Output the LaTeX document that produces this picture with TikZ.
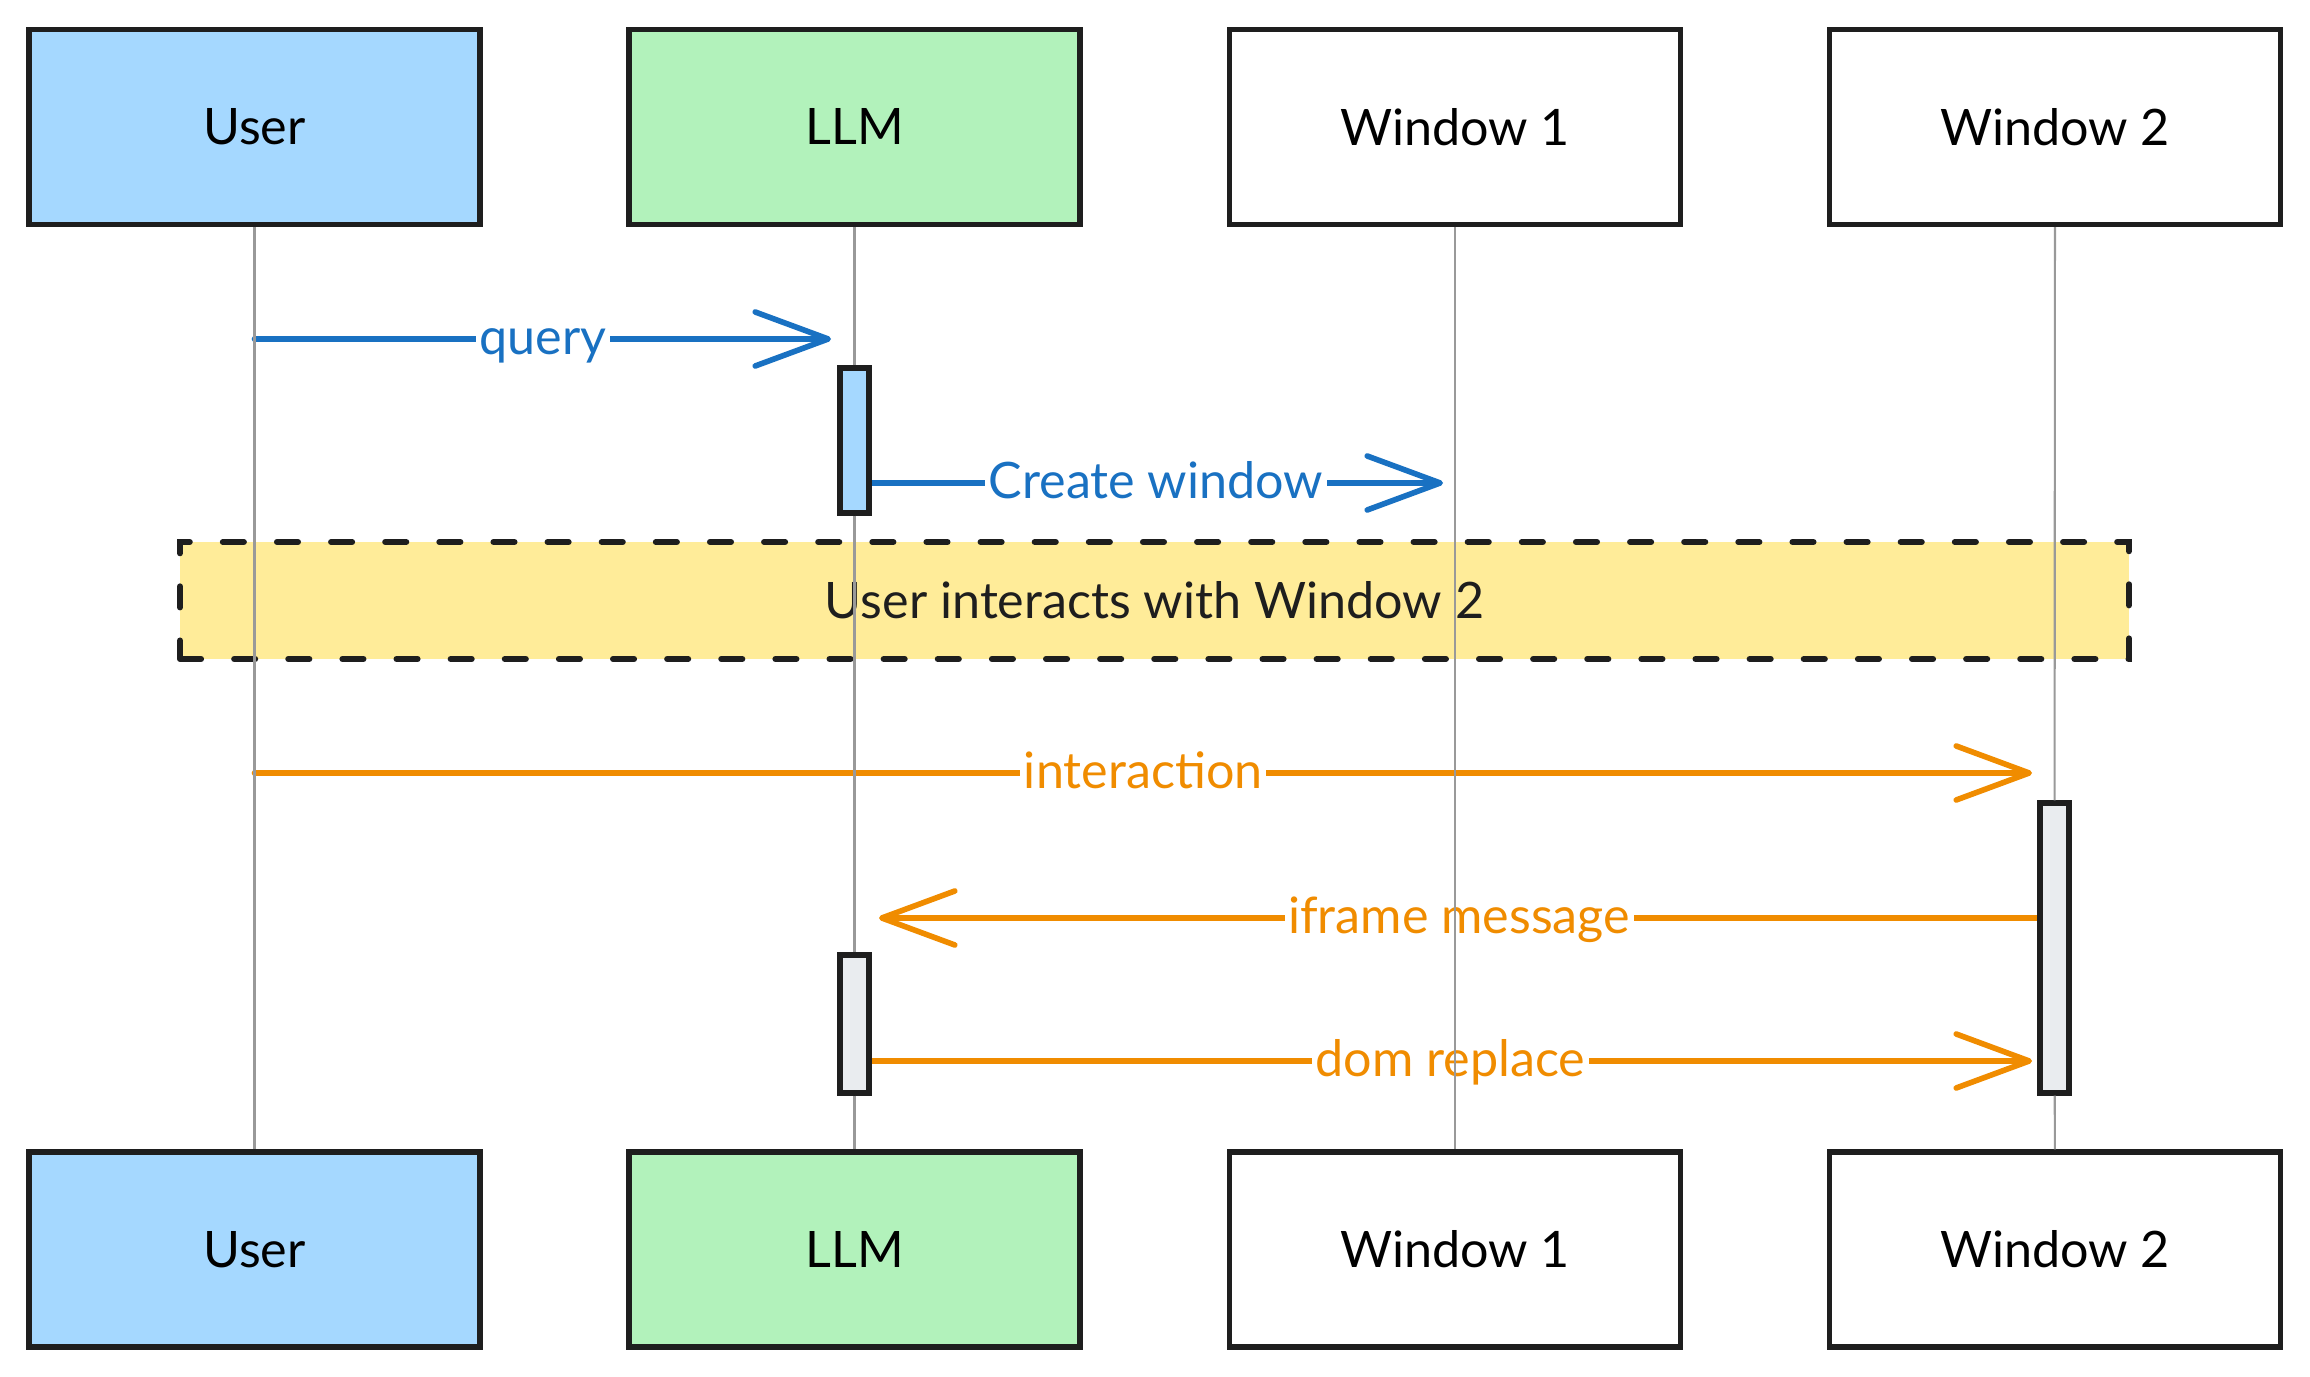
\documentclass[tikz,border=0pt]{standalone}
\usepackage{fontspec}
\setmainfont{Lato}
\usetikzlibrary{arrows.meta}
\definecolor{ink}{HTML}{1E1E1E}
\definecolor{userblue}{HTML}{A5D8FF}
\definecolor{llmgreen}{HTML}{B2F2BB}
\definecolor{noteyellow}{HTML}{FFEC99}
\definecolor{actgray}{HTML}{E9ECEF}
\definecolor{msgblue}{HTML}{1971C2}
\definecolor{msgorange}{HTML}{F08C00}
\definecolor{lifegray}{HTML}{999999}

\begin{document}
\begin{tikzpicture}[x=0.1mm, y=-0.1mm,
  every node/.style={font=\fontsize{14.3}{17}\selectfont, text=black},
  actor/.style={draw=ink, line width=1.55pt, minimum width=45.1mm, minimum height=19.5mm, inner sep=0pt},
  act/.style={draw=ink, line width=1.55pt, minimum width=2.9mm, inner sep=0pt},
  lifeline/.style={draw=lifegray, line width=0.6pt},
  msg/.style={line width=1.6pt, line cap=round, -{Straight Barb[length=7.3mm, width=5.4mm, round]}},
  msglabel/.style={midway, anchor=mid, yshift=-2pt, fill=white, inner xsep=1pt, inner ysep=2pt}]
\useasboundingbox (0,0) rectangle (2310,1377);

\coordinate (U) at (254.5,127);
\coordinate (L) at (854.5,127);
\coordinate (W1) at (1455,127);
\coordinate (W2) at (2055,127);
\coordinate (Ub) at (254.5,1249.5);
\coordinate (Lb) at (854.5,1249.5);
\coordinate (W1b) at (1455,1249.5);
\coordinate (W2b) at (2055,1249.5);

\coordinate (q0) at (254.5,339);
\coordinate (q1) at (831,339);
\coordinate (c0) at (869,483);
\coordinate (c1) at (1443,483);
\coordinate (i0) at (254.5,773);
\coordinate (i1) at (2032,773);
\coordinate (f0) at (2039,918);
\coordinate (f1) at (879,918);
\coordinate (d0) at (869,1061);
\coordinate (d1) at (2032,1061);

% note
\draw (1154.5,600.5) node[draw=ink, fill=noteyellow, line width=1.7pt, dash pattern=on 6pt off 9.4pt, line cap=round,
  minimum width=194.9mm, minimum height=11.7mm, text=ink] (note) {User interacts with Window 2};

% messages
\draw[msg, msgblue] (q0) -- (q1) node[msglabel, text=msgblue] {query};
\draw[msg, msgblue] (c0) -- (c1) node[msglabel, text=msgblue] {Create window};
\draw[msg, msgorange] (i0) -- (i1) node[msglabel, text=msgorange] {interaction};
\draw[msg, msgorange] (f0) -- (f1) node[msglabel, text=msgorange] {iframe message};
\draw[msg, msgorange] (d0) -- (d1) node[msglabel, text=msgorange] {dom replace};

\draw (U) node[actor, fill=userblue] (user) {User};
\draw (L) node[actor, fill=llmgreen] (llm) {LLM};
\draw (W1) node[actor, fill=white] (win1) {Window 1};
\draw (W2) node[actor, fill=white] (win2) {Window 2};
\draw (Ub) node[actor, fill=userblue] (userbot) {User};
\draw (Lb) node[actor, fill=llmgreen] (llmbot) {LLM};
\draw (W1b) node[actor, fill=white] (win1bot) {Window 1};
\draw (W2b) node[actor, fill=white] (win2bot) {Window 2};

\draw (854.5,440.5) node[act, fill=userblue, minimum height=14.5mm] (act1) {};
\draw (2054.5,948) node[act, fill=actgray, minimum height=29mm] (act2) {};
\draw (854.5,1024) node[act, fill=actgray, minimum height=13.8mm] (act3) {};

\draw[lifeline] (user) -- (userbot);
\draw[lifeline] (llm) -- (act1) (act1) -- (act3) (act3) -- (llmbot);
\draw[lifeline] (win1) -- (win1bot);
\draw[lifeline] (win2) -- (act2) (act2) -- (win2bot);
\end{tikzpicture}
\end{document}
